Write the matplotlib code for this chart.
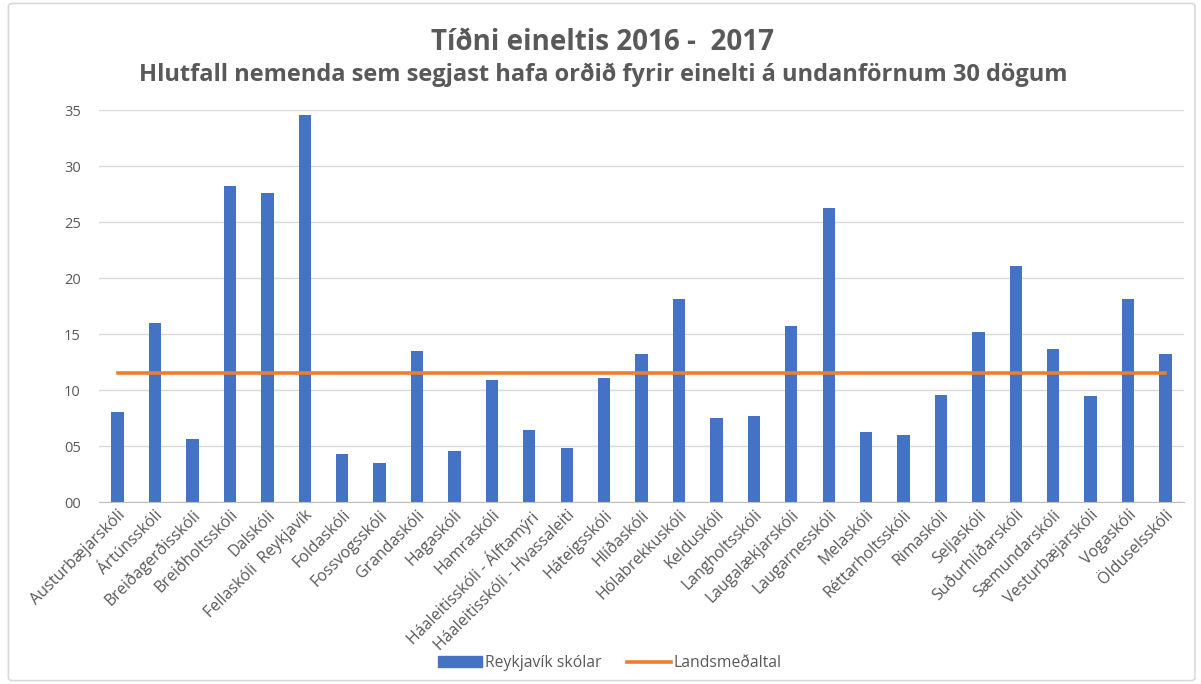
import matplotlib
matplotlib.use("Agg")
import matplotlib.pyplot as plt
import numpy as np
from matplotlib.patches import FancyBboxPatch
from matplotlib.lines import Line2D
from matplotlib.patches import Patch
from matplotlib.ticker import FuncFormatter

# Data
schools = [
    "Austurbæjarskóli", "Ártúnsskóli", "Breiðagerðisskóli", "Breiðholtsskóli",
    "Dalskóli", "Fellaskóli  Reykjavík", "Foldaskóli", "Fossvogsskóli",
    "Grandaskóli", "Hagaskóli", "Hamraskóli", "Háaleitisskóli - Álftamýri",
    "Háaleitisskóli - Hvassaleiti", "Háteigsskóli", "Hlíðaskóli",
    "Hólabrekkuskóli", "Kelduskóli", "Langholtsskóli", "Laugalækjarskóli",
    "Laugarnesskóli", "Melaskóli", "Réttarholtsskóli", "Rimaskóli",
    "Seljaskóli", "Suðurhlíðarskóli", "Sæmundarskóli", "Vesturbæjarskóli",
    "Vogaskóli", "Ölduselsskóli",
]
reykjavik = [8.0, 16.0, 5.6, 28.2, 27.6, 34.6, 4.3, 3.5, 13.5, 4.6, 10.9, 6.4,
             4.8, 11.1, 13.2, 18.1, 7.5, 7.7, 15.7, 26.3, 6.25, 6.0, 9.6, 15.2,
             21.1, 13.7, 9.5, 18.1, 13.2]
national = [11.5] * len(schools)

title = "Tíðni eineltis 2016 -  2017"
subtitle = "Hlutfall nemenda sem segjast hafa orðið fyrir einelti á undanförnum 30 dögum"

plt.rcParams['font.family'] = ['Open Sans', 'DejaVu Sans']
text_gray = '#595959'

fig = plt.figure(figsize=(12.01, 6.84), dpi=100)
fig.patches.append(FancyBboxPatch((0.007, 0.005), 0.988, 0.99,
                                  boxstyle="round,pad=0,rounding_size=0.004",
                                  transform=fig.transFigure, fill=False,
                                  edgecolor='#d9d9d9', linewidth=1.2))

ax = fig.add_axes([0.0824, 0.266, 0.9036, 0.573])
x = np.arange(len(schools))
ax.bar(x, reykjavik, width=0.33, color='#4472C4', zorder=2)
ax.plot(x, national, color='#ED7D31', linewidth=2.6, zorder=3)

ax.set_xlim(-0.5, len(schools) - 0.5)
ax.set_ylim(0, 35)
ax.set_yticks(np.arange(0, 36, 5))
ax.yaxis.set_major_formatter(FuncFormatter(lambda v, p: f"{int(v):02d}"))
ax.grid(axis='y', color='#d9d9d9', linewidth=1, zorder=0)
ax.set_axisbelow(True)
for s in ['top', 'right', 'left']:
    ax.spines[s].set_visible(False)
ax.spines['bottom'].set_color('#bfbfbf')
ax.tick_params(axis='both', length=0, colors=text_gray, labelsize=10.5)
ax.tick_params(axis='y', pad=13)
ax.set_xticks(x)
ax.set_xticklabels(schools, rotation=45, ha='right', rotation_mode='anchor',
                   fontsize=11.5)

fig.text(0.502, 0.938, title, ha='center', va='center', fontsize=20,
         fontweight='bold', color=text_gray)
fig.text(0.502, 0.891, subtitle, ha='center', va='center', fontsize=17,
         fontweight='bold', color=text_gray)

handles = [Patch(color='#4472C4'),
           Line2D([0], [0], color='#ED7D31', linewidth=2.6)]
fig.legend(handles, ["Reykjavík skólar", "Landsmeðaltal"], loc='center',
           bbox_to_anchor=(0.508, 0.03), ncol=2, frameon=False, fontsize=11.3,
           labelcolor=text_gray, handlelength=2.8, handleheight=0.7,
           handletextpad=0.2, columnspacing=1.6)

fig.savefig("out.png", dpi=100)
